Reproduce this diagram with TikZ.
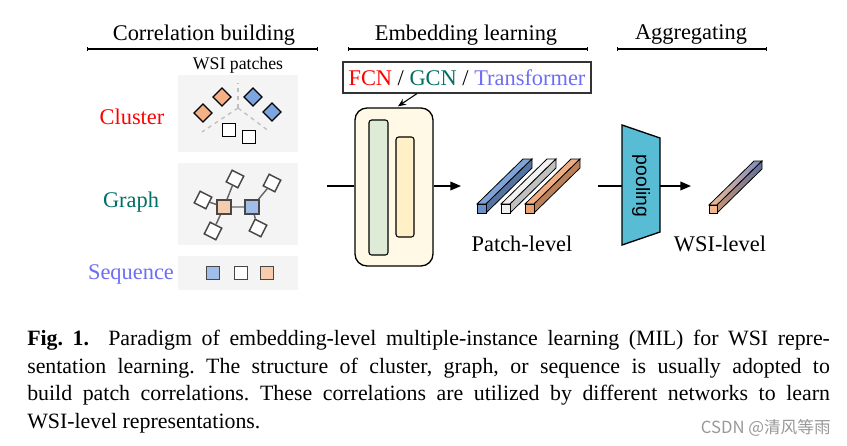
\documentclass[tikz,border=0pt]{standalone}
\usepackage{fontspec}
\setmainfont{Liberation Serif}
\setsansfont{Liberation Sans}
\newfontfamily\cjkfont{Noto Sans CJK SC}
\usetikzlibrary{arrows.meta,calc}

\definecolor{panelgray}{RGB}{244,244,244}
\definecolor{clusterred}{RGB}{255,0,0}
\definecolor{graphteal}{RGB}{0,112,100}
\definecolor{seqblue}{RGB}{110,110,245}
\definecolor{lightorange}{RGB}{248,203,173}
\definecolor{lightblue}{RGB}{160,190,232}
\definecolor{deeporange}{RGB}{244,177,131}
\definecolor{deepblue}{RGB}{124,164,222}
\definecolor{encoderbg}{RGB}{255,249,230}
\definecolor{greenbar}{RGB}{222,235,215}
\definecolor{yellowbar}{RGB}{255,240,200}
\definecolor{poolcyan}{RGB}{88,188,212}
\definecolor{barblue}{RGB}{105,145,205}
\definecolor{barwhite}{RGB}{240,240,240}
\definecolor{barorange}{RGB}{235,160,110}
\definecolor{wsiorange}{RGB}{242,185,145}
\definecolor{wsiblue}{RGB}{120,140,195}

\tikzset{
  heading/.style={font=\fontsize{16.8}{20}\selectfont, inner sep=0pt},
  headline/.style={line width=0.9pt, {Bar[width=3pt]}-{Bar[width=3pt]}},
  rowlabel/.style={font=\fontsize{16.8}{20}\selectfont, inner sep=0pt},
  patchsq/.style={draw=black!72, line width=1.1pt, minimum size=9.75pt, inner sep=0pt},
  diamondpatch/.style={draw=black, line width=1pt, minimum size=9.5pt, inner sep=0pt, rotate=45},
  graphedge/.style={draw=black!60, line width=1.1pt},
  flow/.style={line width=1.1pt, -{Triangle[length=8pt,width=6.5pt]}},
}

% one feature vector drawn as a long bar
\newcommand{\patchbar}[3]{
  \draw[line width=0.6pt, fill=#3!85!white] (#1,#2) -- ++(46,-45) -- ++(9,0) -- ++(-46,45) -- cycle;
  \draw[line width=0.6pt, fill=#3!80!black] (#1+9,#2) -- ++(46,-45) -- ++(0,9) -- ++(-46,45) -- cycle;
  \draw[line width=0.6pt, fill=#3] (#1,#2) rectangle ++(9,9);
}

\begin{document}
\begin{tikzpicture}[x=0.75pt,y=-0.75pt]
  \fill[white] (0,0) rectangle (847,446);
  \useasboundingbox (0,0) rectangle (847,446);

  % Headings
  \node[heading] (hcorr) at (204,35) {Correlation building};
  \node[heading] (hembed) at (466,35) {Embedding learning};
  \node[heading] (hagg) at (691,35) {Aggregating};
  \draw[headline] (87,49) -- (318,49);
  \draw[headline] (348,49) -- (588,49);
  \draw[headline] (617,49) -- (767,49);

  % Correlation structures
  \node[font=\fontsize{13.3}{15}\selectfont, inner sep=0pt] (wsi) at (238,65) {WSI patches};
  \fill[panelgray] (178,75) rectangle (298,152);
  \fill[panelgray] (178,163) rectangle (298,245);
  \fill[panelgray] (178,256) rectangle (298,290);

  \node[rowlabel, text=clusterred] (lcluster) at (132,117) {Cluster};
  \node[rowlabel, text=graphteal] (lgraph) at (131,202) {Graph};
  \node[rowlabel, text=seqblue] (lseq) at (131,274) {Sequence};

  % cluster
  \coordinate (ccenter) at (238,108);
  \draw[black!25, dashed, line width=1pt] (ccenter) -- (238,83);
  \draw[black!25, dashed, line width=1pt] (ccenter) -- (202,132);
  \draw[black!25, dashed, line width=1pt] (ccenter) -- (270,132);
  \node[diamondpatch, fill=deeporange] (c1) at (222,97) {};
  \node[diamondpatch, fill=deeporange] (c2) at (203,113) {};
  \node[diamondpatch, fill=deepblue] (c3) at (253,97) {};
  \node[diamondpatch, fill=deepblue] (c4) at (272,112) {};
  \node[patchsq, draw=black, line width=1pt, fill=white] (c5) at (229,130) {};
  \node[patchsq, draw=black, line width=1pt, fill=white] (c6) at (249,137) {};

  % graph
  \node[patchsq, fill=lightorange, minimum size=10.5pt] (gorange) at (224,207) {};
  \node[patchsq, fill=lightblue, minimum size=10.5pt] (gblue) at (252,207) {};
  \node[patchsq, fill=white, rotate=-27] (g1) at (235,179) {};
  \node[patchsq, fill=white, rotate=-27] (g2) at (203,200) {};
  \node[patchsq, fill=white, rotate=-27] (g3) at (213,231) {};
  \node[patchsq, fill=white, rotate=-27] (g4) at (272,183) {};
  \node[patchsq, fill=white, rotate=-27] (g5) at (258,228) {};
  \draw[graphedge, draw=black!40, line width=1.6pt] (gorange) -- (gblue);
  \draw[graphedge] (gorange) -- (g1);
  \draw[graphedge] (gorange) -- (g2);
  \draw[graphedge] (gorange) -- (g3);
  \draw[graphedge] (gblue) -- (g4);
  \draw[graphedge] (gblue) -- (g5);

  % sequence
  \node[patchsq, fill=lightblue] (s1) at (213,273) {};
  \node[patchsq, fill=white] (s2) at (241,273) {};
  \node[patchsq, fill=lightorange] (s3) at (267,273) {};

  % Embedding network
  \coordinate (corrout) at (327,186);
  \node[draw, line width=1pt, fill=encoderbg, rounded corners=9pt,
        minimum width=58.5pt, minimum height=118.5pt] (encoder) at (394,187) {};
  \node[draw, line width=0.8pt, fill=greenbar, rounded corners=2pt,
        minimum width=14.25pt, minimum height=101.25pt, inner sep=0pt] (layer1) at (378.5,187.5) {};
  \node[draw, line width=0.8pt, fill=yellowbar, rounded corners=2pt,
        minimum width=13.5pt, minimum height=75pt, inner sep=0pt] (layer2) at (405,187) {};
  \node[draw=black!80, line width=0.8pt, minimum width=186pt, minimum height=23.25pt,
        inner sep=0pt, font=\fontsize{16.8}{20}\selectfont] (nets) at (467,77.5)
        {\textcolor{clusterred}{FCN} / \textcolor{graphteal}{GCN} / \textcolor{seqblue}{Transformer}};
  \draw[line width=0.8pt, -{Stealth[length=6pt,width=5pt]}] ($(nets.south)+(-50,0)$) -- ($(encoder.north)+(4,-1)$);
  \draw[line width=1.1pt] (corrout) -- (encoder.west |- corrout);
  \coordinate (patchin) at (461,186);
  \draw[flow] (encoder.east |- corrout) -- (patchin);

  % Patch-level features
  \patchbar{477}{204}{barblue}
  \patchbar{501}{204}{barwhite}
  \patchbar{525}{204}{barorange}
  \node[rowlabel] (lpatch) at (522,244) {Patch-level};

  % Aggregation
  \draw[line width=1pt, fill=poolcyan] (622,125) -- (660,138) -- (660,232) -- (622,245) -- cycle;
  \node[rotate=-90, font=\sffamily\fontsize{14.5}{16}\selectfont, inner sep=0pt] (pooltext) at (641,186) {pooling};
  \coordinate (poolin) at (598,186);
  \coordinate (poolleft) at (622,186);
  \coordinate (poolright) at (660,186);
  \coordinate (wsiin) at (691,186);
  \draw[line width=1.1pt] (poolin) -- (poolleft);
  \draw[flow] (poolright) -- (wsiin);

  % WSI-level feature
  \path[left color=wsiorange, right color=wsiblue, draw, line width=0.6pt]
    (709,205) -- ++(45,-44) -- ++(8,0) -- ++(-45,44) -- cycle;
  \path[left color=wsiorange!80!black, right color=wsiblue!80!black, draw, line width=0.6pt]
    (717,205) -- ++(45,-44) -- ++(0,8) -- ++(-45,44) -- cycle;
  \draw[line width=0.6pt, fill=wsiorange] (709,205) rectangle ++(8,8);
  \node[rowlabel] (lwsi) at (720,244) {WSI-level};

  % Caption
  \node[anchor=north west, inner sep=0pt, text width=602pt, align=justify,
        font=\fontsize{16.4}{20.6}\selectfont\frenchspacing] (caption) at (27,330)
    {\textbf{Fig.~1.}\ \ Paradigm of embedding-level multiple-instance learning (MIL) for WSI repre-\linebreak
     sentation learning. The structure of cluster, graph, or sequence is usually adopted to\linebreak
     build patch correlations. These correlations are utilized by different networks to learn\linebreak
     WSI-level representations.};
  \node[anchor=east, inner sep=0pt, text=black!40, font=\cjkfont\fontsize{12.5}{14}\selectfont] (mark) at (831,428) {CSDN @清风等雨};
\end{tikzpicture}
\end{document}
